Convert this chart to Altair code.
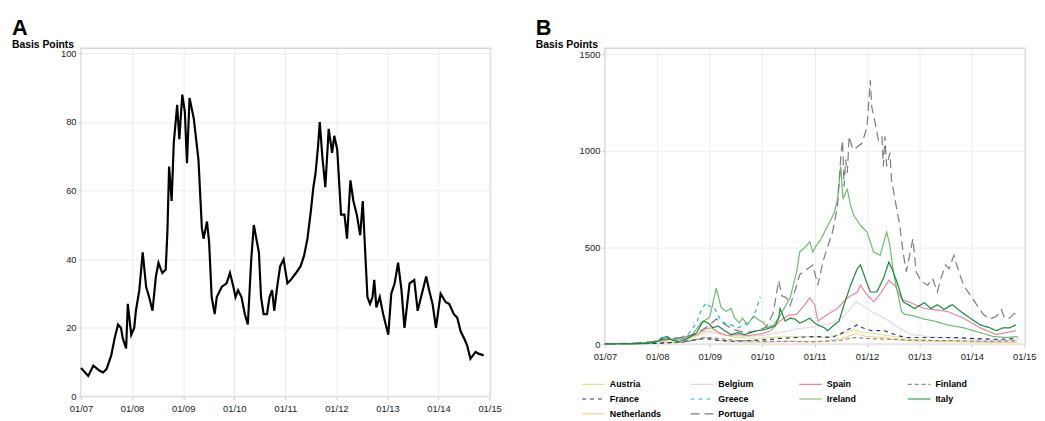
import json
import altair as alt
import pandas as pd

# ---------------- data ----------------
month_ticks = [0, 12, 24, 36, 48, 60, 72, 84, 96]
tick_labels = ["01/07", "01/08", "01/09", "01/10", "01/11", "01/12", "01/13", "01/14", "01/15"]
a_ticks = [0, 20, 40, 60, 80, 100]
b_ticks = [0, 500, 1000, 1500]

# Panel A: (months since Jan 2007, basis points)
spread_a = [(0, 8.3), (1.7, 6), (2.9, 9), (4.4, 7.5), (5.2, 7), (6.0, 8), (7.1, 12), (7.9, 17), (8.7, 21),
            (9.4, 20), (9.8, 17), (10.6, 14), (11.0, 27), (11.8, 18), (12.5, 20), (12.9, 25), (13.7, 31),
            (14.5, 42), (15.3, 32), (16.0, 29), (16.8, 25), (17.6, 35), (18.2, 39), (19.1, 36), (19.9, 37),
            (20.3, 48), (20.7, 67), (21.3, 57), (21.8, 74), (22.6, 85), (23.1, 75), (23.8, 88), (24.4, 83),
            (24.9, 68), (25.5, 87), (26.5, 81), (27.6, 69), (28.4, 49), (28.8, 46), (29.6, 51), (30.1, 45),
            (30.7, 29), (31.4, 24), (31.9, 29), (33.1, 32), (34.2, 33), (35.0, 36), (35.8, 32), (36.3, 29),
            (36.9, 31), (37.7, 29), (38.5, 24), (39.2, 21), (40.0, 40), (40.6, 50), (41.2, 46), (41.8, 42),
            (42.3, 29), (42.9, 24), (43.7, 24), (44.3, 29), (44.9, 31), (45.4, 25), (46.1, 32), (46.8, 38),
            (47.6, 40), (48.5, 33), (49.3, 34), (50.5, 36), (51.6, 38), (52.4, 41), (53.2, 46), (54.0, 54),
            (54.6, 61), (55.1, 65), (55.7, 73), (56.1, 80), (56.7, 70), (57.4, 61), (58.2, 78), (59.0, 71),
            (59.5, 76), (60.2, 72), (61.1, 53), (61.9, 53), (62.5, 46), (63.3, 63), (64.0, 57), (64.8, 53),
            (65.6, 47), (66.2, 57), (66.7, 44), (67.3, 29), (67.9, 27), (68.5, 29), (68.9, 34), (69.4, 26),
            (70.2, 29), (71.0, 24), (71.8, 20), (72.2, 18), (72.9, 30), (73.7, 33), (74.5, 39), (75.3, 31),
            (76.0, 20), (77.2, 33), (78.3, 34), (79.1, 25), (80.3, 31), (81.1, 35), (81.8, 31), (82.6, 27),
            (83.4, 20), (84.5, 30), (85.7, 27.5), (86.5, 27), (87.6, 24), (88.4, 23), (89.2, 19), (90.0, 17),
            (90.7, 15), (91.5, 11), (92.7, 13), (93.4, 12.5), (94.6, 12)]

# Panel B series: (months since Jan 2007, basis points)
austria = [(0, 1), (6, 2), (12, 8), (18, 15), (23, 60), (25, 75), (27, 50), (30, 35), (34, 30), (38, 35),
           (42, 40), (46, 40), (50, 35), (54, 50), (57, 75), (59, 60), (62, 55), (66, 40), (70, 25), (76, 20),
           (82, 18), (88, 12), (94.5, 10)]
belgium = [(0, 1), (6, 2), (12, 10), (15, 20), (18, 25), (21, 45), (23, 70), (25, 60), (28, 45), (32, 40),
           (36, 45), (40, 60), (44, 80), (48, 90), (52, 110), (55, 150), (57.5, 220), (59, 200), (61, 170),
           (64, 135), (67, 90), (70, 50), (76, 35), (82, 30), (88, 20), (94.5, 20)]
spain = [(0, 1), (6, 2), (10, 5), (12, 15), (15, 25), (18, 30), (21, 50), (23, 80), (24.5, 85), (26, 60),
         (28, 45), (30, 50), (33, 45), (36, 55), (38, 70), (40, 120), (42, 150), (43.9, 155), (45.75, 205),
         (46.9, 240), (48, 205), (48.75, 120), (51, 155), (53.25, 185), (55.5, 240), (57.75, 270), (58.5, 305),
         (60, 255), (61.5, 220), (63, 260), (65, 330), (66.5, 300), (68, 230), (69.4, 220), (73.1, 185),
         (78.4, 170), (82.1, 135), (85.9, 85), (89.6, 50), (94.1, 70)]
finland = [(0, 1), (6, 2), (12, 5), (18, 10), (23, 35), (26, 30), (30, 20), (36, 15), (42, 15), (48, 12),
           (54, 20), (57, 35), (60, 30), (66, 25), (72, 20), (80, 18), (88, 15), (94.5, 18)]
france = [(0, 1), (6, 2), (12, 5), (16, 10), (20, 20), (23, 30), (26, 20), (30, 15), (34, 20), (38, 25),
          (40, 30), (44, 35), (48, 40), (52, 35), (54, 55), (56, 80), (57.75, 100), (59, 85), (61, 70), (64, 70),
          (67, 45), (69, 35), (75, 35), (80, 35), (84, 30), (90, 25), (94.5, 30)]
greece = [(0, 3), (6, 4), (10, 8), (12, 20), (13.9, 45), (15.5, 25), (17, 30), (19, 50), (21, 110), (22.1, 180),
          (23.25, 215), (24, 195), (25.1, 185), (26.25, 135), (27.4, 110), (28.9, 100), (30.4, 85), (31.5, 95),
          (32.6, 110), (33.75, 135), (34.5, 170), (35, 205), (35.6, 245)]
ireland = [(0, 2), (6, 3), (10, 8), (12, 15), (14, 30), (16, 25), (18, 35), (20, 50), (22, 110), (24, 140),
           (25.5, 290), (26.6, 190), (27.75, 170), (28.9, 185), (29.6, 140), (30.75, 110), (31.5, 135),
           (32.6, 100), (34.1, 145), (34.9, 130), (36.4, 110), (37.1, 85), (38.6, 100), (39.75, 135), (40.9, 180),
           (42.4, 240), (43.9, 375), (44.6, 477), (45.75, 500), (46.9, 530), (47.6, 477), (48.4, 510),
           (49.5, 545), (50.6, 595), (51.75, 645), (52.5, 680), (53.25, 750), (54.0, 920), (54.5, 750),
           (55.1, 785), (55.5, 800), (56.25, 715), (57.0, 665), (58.5, 615), (60.0, 580), (61.5, 477), (63.0, 460),
           (64.5, 580), (65.25, 510), (66.0, 375), (67.1, 255), (67.9, 170), (68.6, 155), (70.9, 145),
           (73.1, 130), (75.4, 120), (78.4, 100), (82.1, 85), (85.9, 60), (88.9, 40), (91.9, 35), (94.5, 40)]
italy = [(0, 2), (6, 3), (10, 5), (12, 15), (14, 40), (15.5, 20), (17, 15), (19, 30), (21, 60), (22.5, 120),
         (23.6, 110), (24.75, 85), (25.9, 95), (27.4, 70), (28.9, 50), (30.4, 60), (31.9, 50), (33.4, 60),
         (34.9, 70), (36.4, 75), (37.9, 85), (39.0, 95), (39.75, 135), (40.1, 185), (41.25, 120), (42.4, 135),
         (43.5, 130), (44.6, 110), (45.75, 120), (46.9, 135), (48.0, 110), (48.75, 100), (50.25, 85), (51.0, 70),
         (52.5, 100), (53.6, 120), (54.75, 205), (56.25, 305), (57.75, 390), (58.5, 410), (59.6, 340),
         (60.75, 270), (62.25, 270), (63.75, 340), (65.0, 425), (66.0, 375), (67.1, 305), (68.25, 220),
         (69.4, 205), (70.9, 185), (73.1, 215), (74.6, 185), (76.1, 205), (77.6, 180), (79.5, 205), (81.4, 170),
         (83.6, 135), (85.9, 100), (88.1, 85), (89.6, 70), (91.1, 85), (92.6, 85), (94.1, 100)]
netherlands = [(0, 1), (6, 2), (12, 5), (18, 10), (23, 35), (26, 20), (30, 12), (36, 10), (42, 15), (48, 15),
               (52, 20), (55, 35), (57.5, 55), (60, 40), (64, 35), (68, 20), (74, 15), (82, 12), (88, 10),
               (94.5, 10)]
portugal = [(0, 3), (6, 5), (12, 15), (15, 30), (18, 35), (21, 55), (24, 100), (25.5, 130), (27, 110), (29, 80),
            (32, 60), (35, 70), (37, 90), (38.5, 160), (39.8, 330), (40.5, 250), (41.6, 240), (42.4, 200),
            (43.9, 305), (44.6, 360), (46.1, 385), (47.6, 410), (48.75, 305), (49.9, 425), (50.6, 477),
            (52.1, 580), (53.25, 715), (54.0, 970), (54.4, 1055), (54.75, 815), (55.1, 955), (55.5, 885),
            (55.9, 1075), (56.6, 1020), (57.0, 1005), (57.75, 1020), (58.9, 1040), (60.0, 1125), (60.75, 1365),
            (61.1, 1225), (61.9, 1140), (62.6, 1055), (63.4, 1075), (63.75, 920), (64.1, 1075), (64.5, 920),
            (65.25, 990), (65.6, 850), (66.4, 750), (67.5, 615), (68.25, 475), (69.0, 375), (69.75, 460),
            (70.5, 545), (71.25, 375), (72.4, 325), (73.9, 305), (75.0, 340), (76.1, 270), (76.9, 340),
            (78.0, 410), (78.75, 390), (79.9, 460), (81.0, 375), (82.1, 305), (83.6, 255), (85.1, 205),
            (86.6, 155), (88.1, 130), (89.6, 145), (90.75, 180), (91.5, 135), (92.6, 135), (93.75, 160),
            (94.5, 155)]

legend_order = ["Austria", "Belgium", "Spain", "Finland", "France", "Greece", "Ireland", "Italy",
                "Netherlands", "Portugal"]
series_colors = ["#dde697", "#e6d9da", "#e8879b", "#8a8a8a", "#27348b", "#22b2d6", "#6cbb6c", "#148a38",
                 "#f2d490", "#7c7c7c"]
series_dash = [[1, 0], [1, 0], [1, 0], [4, 3], [4, 4], [4, 4], [1, 0], [1, 0], [1, 0], [9, 5]]
series_width = [1.2, 1.2, 1.2, 1.3, 1.6, 1.6, 1.6, 2.6, 1.2, 1.6]

# drawing order (light lines underneath, Italy on top)
draw_order = [("Belgium", belgium), ("Austria", austria), ("Netherlands", netherlands), ("Finland", finland),
              ("France", france), ("Spain", spain), ("Greece", greece), ("Ireland", ireland),
              ("Portugal", portugal), ("Italy", italy)]

# ---------------- build ----------------
FONT = "Liberation Sans"
label_expr = json.dumps(tick_labels) + "[round(datum.value / 12)]"

dfA = pd.DataFrame(spread_a, columns=["month", "bp"])
rows = []
for name, pts in draw_order:
    for m, v in pts:
        rows.append({"country": name, "month": m, "bp": v})
dfB = pd.DataFrame(rows)


def x_enc():
    return alt.X("month:Q",
                 scale=alt.Scale(domain=[0, 96.2], nice=False, zero=False),
                 axis=alt.Axis(values=month_ticks, labelExpr=label_expr, title=None,
                               labelPadding=4, tickSize=3, labelFlush=False))


def title(letter):
    return alt.TitleParams(text=letter, subtitle="Basis Points", anchor="start", frame="group",
                           dx=-70, font=FONT, fontSize=22, fontWeight="bold", color="#000",
                           subtitleFont=FONT, subtitleFontSize=10.5, subtitleFontWeight="bold",
                           subtitleColor="#000", subtitlePadding=0, offset=-3)


chartA = alt.Chart(dfA).mark_line(color="#000", strokeWidth=2.2).encode(
    x=x_enc(),
    y=alt.Y("bp:Q", scale=alt.Scale(domain=[0, 101.5], nice=False),
            axis=alt.Axis(values=a_ticks, title=None, labelPadding=2, tickSize=3, format="d")),
).properties(width=415, height=353, title=title("A"))

leg = alt.Legend(orient="none", legendX=-18, legendY=334, columns=4, title=None, direction="horizontal",
                 symbolType="M-2,0H2", symbolSize=132, labelFont=FONT, labelFontSize=9,
                 labelFontWeight="bold", labelColor="#000", labelOffset=10, gridAlign="all",
                 columnPadding=26, rowPadding=3)

chartB = alt.Chart(dfB).mark_line().encode(
    x=x_enc(),
    y=alt.Y("bp:Q", scale=alt.Scale(domain=[0, 1530], nice=False),
            axis=alt.Axis(values=b_ticks, title=None, labelPadding=2, tickSize=3, format="d")),
    color=alt.Color("country:N", sort=legend_order,
                    scale=alt.Scale(domain=legend_order, range=series_colors), legend=leg),
    strokeDash=alt.StrokeDash("country:N", sort=legend_order,
                              scale=alt.Scale(domain=legend_order, range=series_dash), legend=leg),
    strokeWidth=alt.StrokeWidth("country:N", sort=legend_order,
                                scale=alt.Scale(domain=legend_order, range=series_width), legend=leg),
).properties(width=426, height=300, title=title("B"))

chart = alt.hconcat(chartA, chartB, spacing=33).resolve_legend(
    color="independent", strokeDash="independent", strokeWidth="independent"
).resolve_scale(
    color="independent", strokeDash="independent", strokeWidth="independent"
).properties(
    padding={"left": 3, "top": 5, "right": 0, "bottom": 0}
).configure_view(
    stroke="#d6d6d6", strokeWidth=1.5
).configure_axis(
    domain=False, gridColor="#ececec", gridWidth=1, tickColor="#c8c8c8",
    labelFont=FONT, labelFontSize=9.5, labelColor="#222"
)

chart.save("out.html", embed_options={"renderer": "svg", "actions": False})
